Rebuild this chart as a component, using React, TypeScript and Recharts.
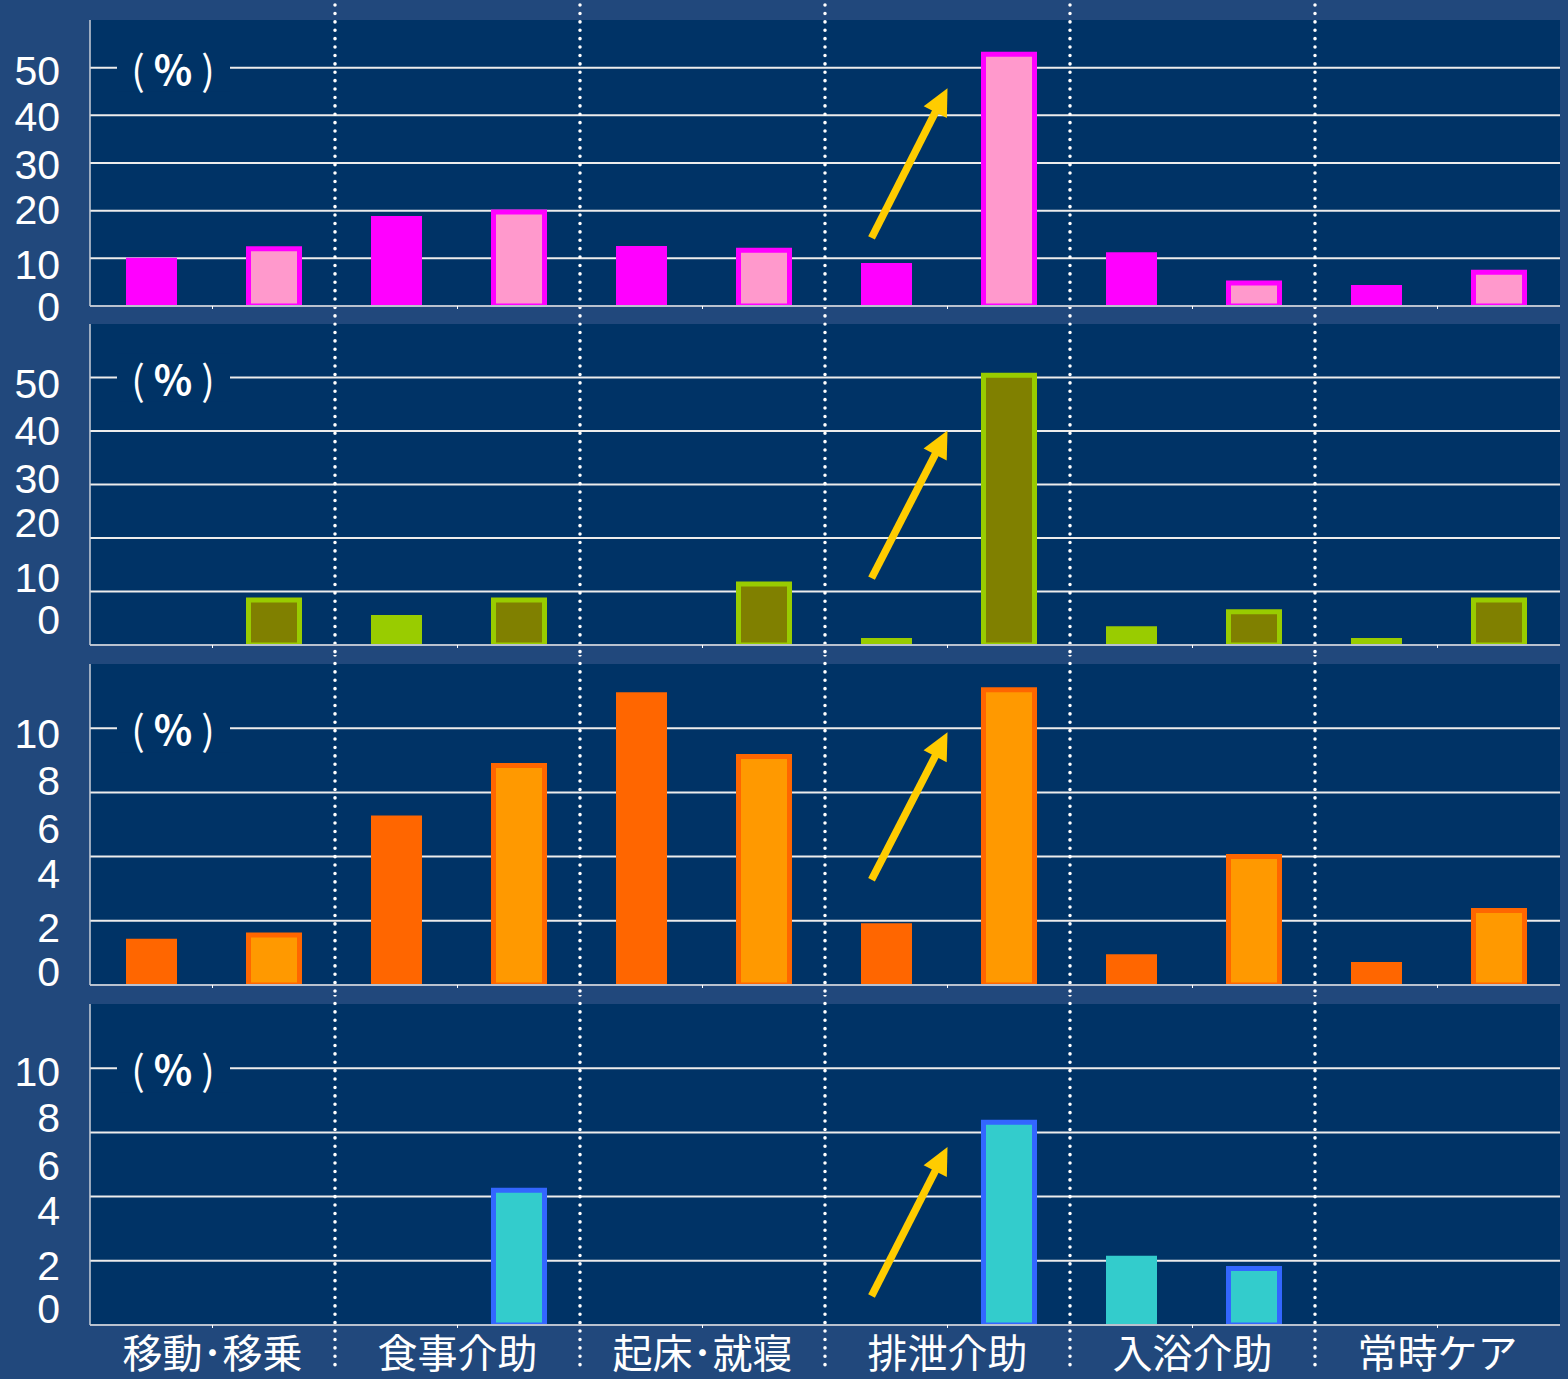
import React from 'react';
import { BarChart, Bar, Cell, XAxis, YAxis, CartesianGrid, ReferenceLine } from 'recharts';

// six care categories, two bars each (before / after)
const categories = ['移動･移乗', '食事介助', '起床･就寝', '排泄介助', '入浴介助', '常時ケア'];

const pinkValues = [10.1, 12, 18.9, 19.7, 12.6, 11.7, 9, 52.8, 11.3, 4.8, 4.4, 7.1];
const greenValues = [0, 8.4, 5.6, 8.4, 0, 11.4, 1.3, 50.4, 3.5, 6.2, 1.3, 8.4];
const orangeValues = [1.8, 1.95, 6.6, 8.55, 11.4, 8.9, 2.4, 11.5, 1.2, 5.0, 0.9, 2.9];
const tealValues = [0, 0, 0, 5.25, 0, 0, 0, 7.9, 2.7, 2.2, 0, 0];

// y tick labels as printed (they sit a little off the grid in the original)
const pctLabels = ['0', '10', '20', '30', '40', '50'];
const smallLabels = ['0', '2', '4', '6', '8', '10'];
const pinkTickPos = [0, 8.8, 20.2, 29.6, 39.7, 49.4];
const greenTickPos = [4.7, 12.7, 22.9, 31.2, 40.1, 48.9];
const orangeTickPos = [0.54, 2.26, 4.36, 6.1, 7.98, 9.8];
const tealTickPos = [0.66, 2.33, 4.47, 6.2, 8.1, 9.88];

const pctGrid = [10, 20, 30, 40, 50];
const smallGrid = [2.5, 5, 7.5, 10];

const groupBounds = [2, 4, 6, 8, 10];
const groupCenters = [1, 3, 5, 7, 9, 11];

const OUTER_BG = '#21487C';
const PLOT_BG = '#003366';
const ARROW = '#FFCC00';
const CJK = "'Noto Sans CJK JP', sans-serif";

type Colors = { a: string; b: string; stroke: string };

type PanelProps = {
  values: number[];
  colors: Colors;
  domainMax: number;
  tickPos: number[];
  tickLabels: string[];
  grid: number[];
  arrow: { x: number; y: number }[];
  height: number;
  marginTop: number;
  marginBottom: number;
  xHeight: number;
  showLabels?: boolean;
  sepTop: number;
  sepBottom: number;
};

const renderPct = (props: any) => {
  const vb = props.viewBox || {};
  const cx = vb.x + 83;
  const y = vb.y;
  return (
    <g fill="#FFFFFF" fontFamily={CJK} fontSize={40}>
      <rect x={cx - 56} y={y - 24} width={113} height={48} fill={PLOT_BG} />
      <text x={cx - 35} y={y} textAnchor="middle" dominantBaseline="central">(</text>
      <text x={cx} y={y} textAnchor="middle" dominantBaseline="central" fontWeight="bold">%</text>
      <text x={cx + 35} y={y} textAnchor="middle" dominantBaseline="central">)</text>
    </g>
  );
};

const renderArrow = (p: any) => {
  const { x1, y1, x2, y2 } = p;
  const dx = x2 - x1, dy = y2 - y1;
  const len = Math.hypot(dx, dy) || 1;
  const ux = dx / len, uy = dy / len;
  const head = 27, half = 13;
  const bx = x2 - ux * head, by = y2 - uy * head;
  return (
    <g>
      <line x1={x1} y1={y1} x2={bx + ux * 2} y2={by + uy * 2} stroke={ARROW} strokeWidth={7.5} />
      <polygon points={`${x2},${y2} ${bx - uy * half},${by + ux * half} ${bx + uy * half},${by - ux * half}`} fill={ARROW} />
    </g>
  );
};

const makeSep = (top: number, bottom: number) => (p: any) => (
  <line x1={p.x1} x2={p.x1} y1={top} y2={bottom} stroke="#FFFFFF" strokeWidth={3.5}
    strokeDasharray="0.1 8.3" strokeLinecap="round" />
);

const Panel = ({ values, colors, domainMax, tickPos, tickLabels, grid, arrow, height, marginTop, marginBottom, xHeight, showLabels, sepTop, sepBottom }: PanelProps) => {
  const data = values.map((v, i) => ({ slot: i + 0.5, value: v }));
  const sep = makeSep(sepTop, sepBottom);
  return (
    <BarChart width={1568} height={height} data={data}
      margin={{ top: marginTop, right: 8, left: 0, bottom: marginBottom }}>
      <CartesianGrid fill={PLOT_BG} vertical={false} horizontalValues={grid}
        stroke="#ECECEC" strokeWidth={2} />
      <XAxis type="number" dataKey="slot" domain={[0, 12]} ticks={groupCenters}
        height={xHeight} interval={0} allowDataOverflow
        axisLine={{ stroke: '#B9C2CF', strokeWidth: 2 }}
        tickLine={{ stroke: '#FFFFFF' }} tickSize={3} tickMargin={12}
        tick={{ fill: '#FFFFFF', fontSize: 40, fontFamily: CJK }}
        tickFormatter={(v: number) => (showLabels ? categories[Math.round((v - 1) / 2)] : '')} />
      <YAxis type="number" domain={[0, domainMax]} ticks={tickPos} interval={0} width={90}
        allowDataOverflow
        axisLine={{ stroke: '#C8CFD9', strokeWidth: 1.5 }} tickLine={false} tickSize={0} tickMargin={30}
        tick={{ fill: '#FFFFFF', fontSize: 41, fontFamily: "'Liberation Sans', Arial, sans-serif" }}
        tickFormatter={(_v: number, i: number) => tickLabels[i]} />
      <ReferenceLine y={grid[grid.length - 1]} stroke="none" label={renderPct} />
      <Bar dataKey="value" barSize={51} isAnimationActive={false}>
        {data.map((_, i) => (
          <Cell key={i}
            fill={i % 2 === 0 ? colors.a : colors.b}
            stroke={i % 2 === 0 ? 'none' : colors.stroke}
            strokeWidth={i % 2 === 0 ? 0 : 5} />
        ))}
      </Bar>
      {groupBounds.map((b) => (
        <ReferenceLine key={b} x={b} stroke="#FFFFFF" shape={sep} />
      ))}
      <ReferenceLine segment={arrow} stroke={ARROW} shape={renderArrow} />
    </BarChart>
  );
};

export default function App() {
  return (
    <div style={{ position: 'absolute', left: 0, top: 0, width: 1568, height: 1379, background: OUTER_BG, overflow: 'hidden' }}>
      <Panel values={pinkValues} colors={{ a: '#FF00FF', b: '#FF99CC', stroke: '#FF00FF' }}
        domainMax={60} tickPos={pinkTickPos} tickLabels={pctLabels} grid={pctGrid}
        arrow={[{ x: 6.38, y: 14.3 }, { x: 7.0, y: 45.7 }]}
        height={332} marginTop={20} marginBottom={25} xHeight={1} sepTop={5} sepBottom={332} />
      <div style={{ marginTop: -8 }}>
        <Panel values={greenValues} colors={{ a: '#99CC00', b: '#808000', stroke: '#99CC00' }}
          domainMax={60} tickPos={greenTickPos} tickLabels={pctLabels} grid={pctGrid}
          arrow={[{ x: 6.38, y: 12.5 }, { x: 7.0, y: 40.1 }]}
          height={331} marginTop={0} marginBottom={9} xHeight={1} sepTop={0} sepBottom={331} />
      </div>
      <Panel values={orangeValues} colors={{ a: '#FF6600', b: '#FF9900', stroke: '#FF6600' }}
        domainMax={12.5} tickPos={orangeTickPos} tickLabels={smallLabels} grid={smallGrid}
        arrow={[{ x: 6.38, y: 4.1 }, { x: 7.0, y: 9.84 }]}
        height={340} marginTop={9} marginBottom={9} xHeight={1} sepTop={0} sepBottom={340} />
      <Panel values={tealValues} colors={{ a: '#33CCCC', b: '#33CCCC', stroke: '#3366FF' }}
        domainMax={12.5} tickPos={tealTickPos} tickLabels={smallLabels} grid={smallGrid}
        arrow={[{ x: 6.38, y: 1.13 }, { x: 7.0, y: 6.93 }]}
        height={384} marginTop={9} marginBottom={4} xHeight={50} showLabels sepTop={0} sepBottom={370} />
    </div>
  );
}
